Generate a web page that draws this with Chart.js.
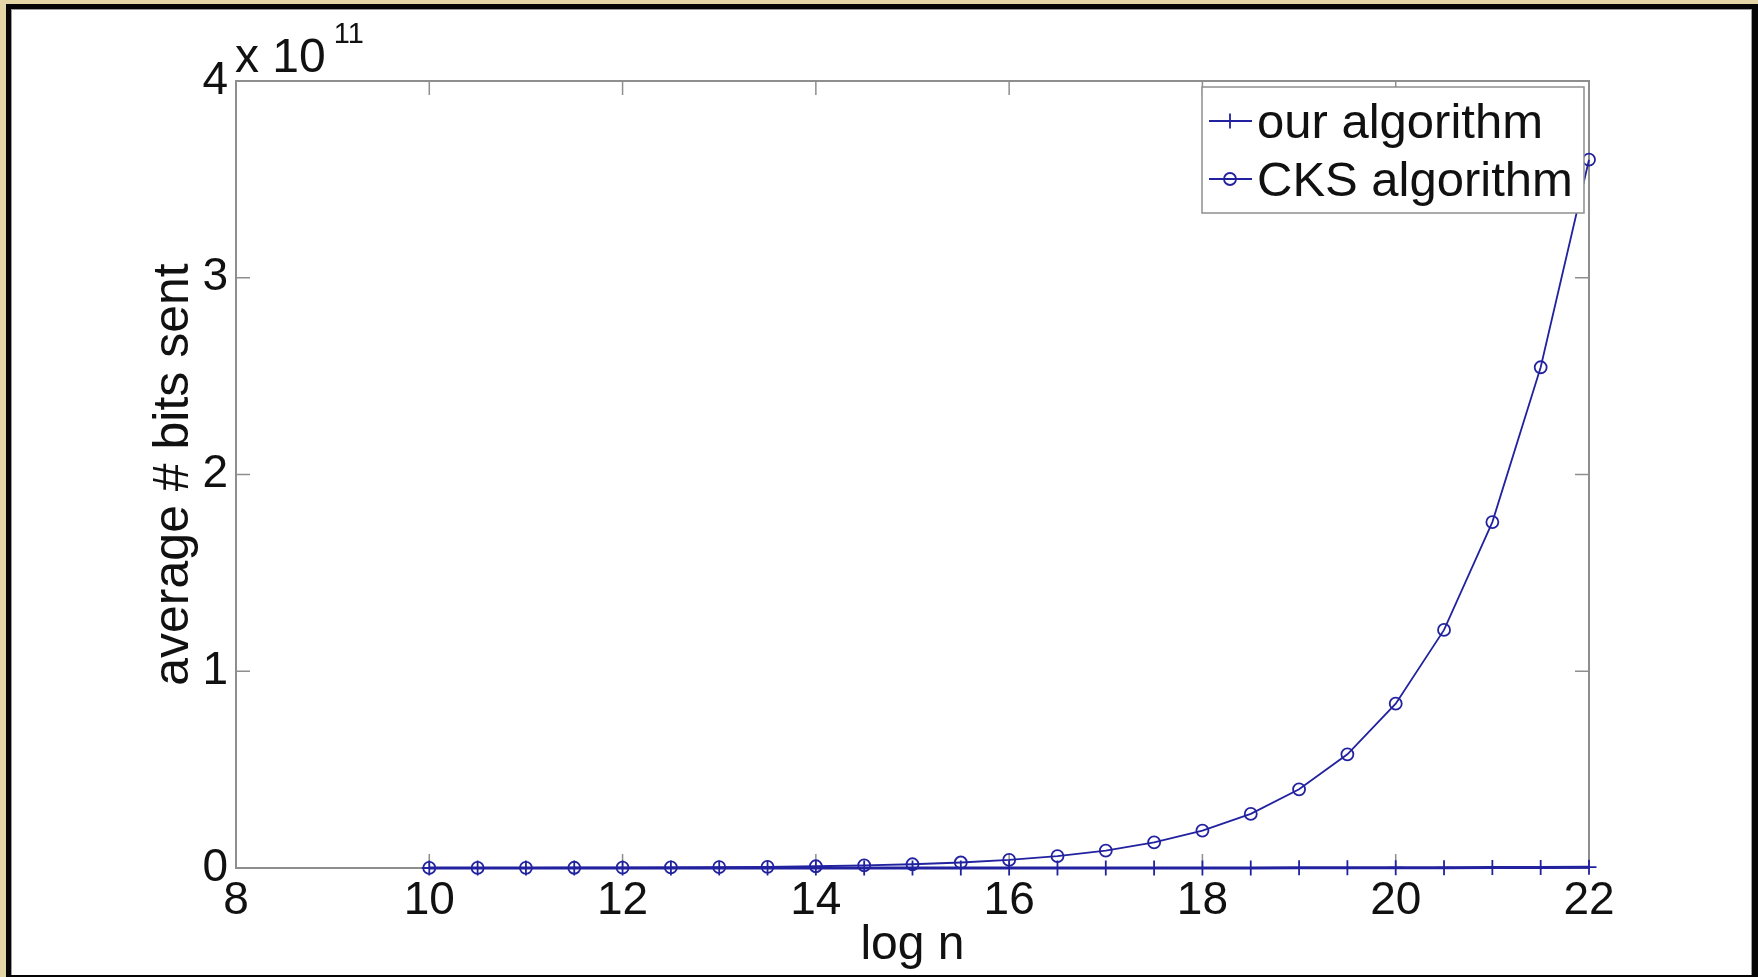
<!DOCTYPE html>
<html>
<head>
<meta charset="utf-8">
<title>average # bits sent vs log n</title>
<script src="https://cdn.jsdelivr.net/npm/chart.js@4.4.1/dist/chart.umd.min.js"></script>
<style>
    html, body { margin: 0; padding: 0; }
    body { width: 1758px; height: 977px; background: #e4d6a7; position: relative; overflow: hidden; }
    #frame {
        position: absolute; left: 6px; top: 4px; width: 1741px; height: 966px;
        background: #fff; border-style: solid; border-color: #050505; border-width: 5px 6px 2px 5px;
    }
    #frame::before {
        content: ''; position: absolute; left: 0; top: 0; right: 0; bottom: 0;
        border: 1px solid #9c9c9c; border-bottom: none;
    }
    #chart-wrap { position: absolute; left: 0; top: 0; width: 1758px; height: 977px; }
</style>
</head>
<body>
<div id="frame"></div>
<div id="chart-wrap"><canvas id="bits-chart"></canvas></div>
<script>
// log n for each run
const logN = [10, 10.5, 11, 11.5, 12, 12.5, 13, 13.5, 14, 14.5, 15, 15.5, 16, 16.5, 17, 17.5, 18, 18.5, 19, 19.5, 20, 20.5, 21, 21.5, 22];
// average number of bits sent
const ourBits = [2e5, 3e5, 4e5, 6e5, 8e5, 1.1e6, 1.5e6, 2.1e6, 2.9e6, 4e6, 5.5e6, 7.5e6, 1.0e7, 1.4e7, 1.9e7, 2.6e7, 3.5e7, 4.8e7, 6.5e7, 8.8e7, 1.2e8, 1.6e8, 2.2e8, 3.0e8, 4.0e8];
const cksBits = [3.7e7, 5.5e7, 8.0e7, 1.2e8, 1.8e8, 2.7e8, 4.0e8, 6.0e8, 8.8e8, 1.3e9, 1.9e9, 2.8e9, 4.1e9, 6.0e9, 8.8e9, 1.3e10, 1.9e10, 2.75e10, 4.0e10, 5.78e10, 8.35e10, 1.21e11, 1.758e11, 2.545e11, 3.6e11];
const xTicks = { min: 8, max: 22, step: 2 };
const yTicks = { min: 0, max: 4e11, step: 1e11 };
const yExponent = 11;

const FONT = 'Liberation Sans, Arial, Helvetica, sans-serif';
const BLUE = '#2222a0';
const AXIS_GRAY = '#8e8e8e';

const toPoints = (ys) => logN.map((x, i) => ({ x, y: ys[i] }));

// matlab style box with inward ticks on all four sides
const axesBox = {
    id: 'axesBox',
    beforeDatasetsDraw(chart) {
        const { ctx, chartArea: a, scales } = chart;
        const len = 14;
        ctx.save();
        ctx.strokeStyle = AXIS_GRAY;
        ctx.lineWidth = 2;
        ctx.strokeRect(a.left, a.top, a.right - a.left, a.bottom - a.top);
        ctx.lineWidth = 1.5;
        ctx.beginPath();
        scales.x.ticks.forEach(t => {
            const px = scales.x.getPixelForValue(t.value);
            ctx.moveTo(px, a.bottom); ctx.lineTo(px, a.bottom - len);
            ctx.moveTo(px, a.top); ctx.lineTo(px, a.top + len);
        });
        scales.y.ticks.forEach(t => {
            const py = scales.y.getPixelForValue(t.value);
            ctx.moveTo(a.left, py); ctx.lineTo(a.left + len, py);
            ctx.moveTo(a.right, py); ctx.lineTo(a.right - len, py);
        });
        ctx.stroke();
        ctx.restore();
    },
    afterDraw(chart) {
        // "x 10^11" multiplier above the y axis
        const { ctx, chartArea: a } = chart;
        ctx.save();
        ctx.fillStyle = '#111';
        ctx.textBaseline = 'alphabetic';
        ctx.textAlign = 'left';
        ctx.font = `48px ${FONT}`;
        const base = 'x 10';
        ctx.fillText(base, a.left - 1, a.top - 9);
        const w = ctx.measureText(base).width;
        ctx.font = `29px ${FONT}`;
        ctx.fillText(String(yExponent), a.left - 1 + w + 8, a.top - 38);
        ctx.restore();
    }
};

// boxed legend in the top right corner of the axes
const boxLegend = {
    id: 'boxLegend',
    afterDatasetsDraw(chart) {
        const { ctx, chartArea: a } = chart;
        const width = 382, height = 126;
        const left = a.right - width - 5, top = a.top + 6;
        ctx.save();
        ctx.fillStyle = '#fff';
        ctx.fillRect(left, top, width, height);
        ctx.strokeStyle = AXIS_GRAY;
        ctx.lineWidth = 1.5;
        ctx.strokeRect(left, top, width, height);

        ctx.font = `49px ${FONT}`;
        ctx.textAlign = 'left';
        ctx.textBaseline = 'alphabetic';
        chart.data.datasets.forEach((ds, i) => {
            const baseline = top + 51 + i * 58;
            const my = baseline - 17;
            ctx.strokeStyle = ds.borderColor;
            ctx.lineWidth = 1.8;
            ctx.beginPath();
            ctx.moveTo(left + 7, my);
            ctx.lineTo(left + 50, my);
            ctx.stroke();
            ctx.fillStyle = 'rgba(0,0,0,0)';
            Chart.helpers.drawPoint(ctx, {
                pointStyle: ds.pointStyle, radius: ds.pointRadius, rotation: 0, borderWidth: 1.8
            }, left + 28, my);
            ctx.fillStyle = '#111';
            ctx.fillText(ds.label, left + 55, baseline);
        });
        ctx.restore();
    }
};

const ctx = document.getElementById('bits-chart').getContext('2d');
new Chart(ctx, {
    type: 'line',
    data: {
        datasets: [
            {
                label: 'our algorithm',
                data: toPoints(ourBits),
                borderColor: BLUE,
                borderWidth: 3,
                pointStyle: 'cross',
                pointRadius: 7.5,
                pointBorderWidth: 1.8,
                pointBorderColor: BLUE,
                pointBackgroundColor: 'rgba(0,0,0,0)',
                tension: 0,
                clip: false
            },
            {
                label: 'CKS algorithm',
                data: toPoints(cksBits),
                borderColor: BLUE,
                borderWidth: 1.8,
                pointStyle: 'circle',
                pointRadius: 6,
                pointBorderWidth: 1.8,
                pointBorderColor: BLUE,
                pointBackgroundColor: 'rgba(0,0,0,0)',
                tension: 0,
                clip: false
            }
        ]
    },
    options: {
        responsive: true,
        maintainAspectRatio: false,
        animation: false,
        events: [],
        layout: { padding: { left: 141, top: 81, right: 169, bottom: 0 } },
        plugins: { legend: { display: false }, tooltip: { enabled: false } },
        scales: {
            x: {
                type: 'linear',
                min: xTicks.min,
                max: xTicks.max,
                border: { display: false },
                grid: { display: false, drawTicks: false },
                ticks: { stepSize: xTicks.step, padding: 6, color: '#111', font: { family: FONT, size: 46 } },
                title: { display: true, text: 'log n', color: '#111', padding: { top: 0, bottom: 2 }, font: { family: FONT, size: 48 } },
                afterFit: (scale) => { scale.height = 109; }
            },
            y: {
                type: 'linear',
                min: yTicks.min,
                max: yTicks.max,
                border: { display: false },
                grid: { display: false, drawTicks: false },
                ticks: {
                    stepSize: yTicks.step, padding: 8, color: '#111', font: { family: FONT, size: 46 },
                    callback: (v) => String(v / Math.pow(10, yExponent))
                },
                title: { display: true, text: 'average # bits sent', color: '#111', padding: { top: 3, bottom: 0 }, font: { family: FONT, size: 50 } },
                afterFit: (scale) => { scale.width = 95; }
            }
        }
    },
    plugins: [axesBox, boxLegend]
});
</script>
</body>
</html>
